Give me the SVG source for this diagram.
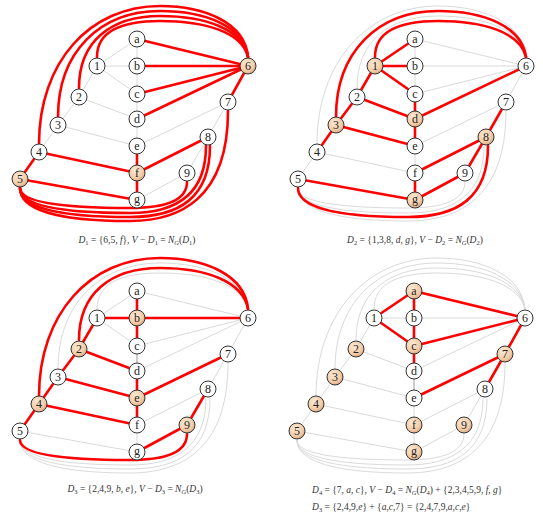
<svg xmlns="http://www.w3.org/2000/svg" width="543" height="515" viewBox="0 0 543 515">
<defs>
<radialGradient id="peach" cx="0.4" cy="0.35" r="0.7">
<stop offset="0" stop-color="#fcebd8"/>
<stop offset="0.7" stop-color="#f2c9a3"/>
<stop offset="1" stop-color="#d69e78"/>
</radialGradient>
<style>
.g{stroke:#dadada;stroke-width:1;fill:none}
.dk{stroke:#9a9a9a;stroke-width:1;fill:none}
.r{stroke:#ff0000;stroke-width:2.6;fill:none;stroke-linecap:round}
.node circle{fill:#fff;stroke:#333;stroke-width:1}
.node.dom circle{fill:url(#peach)}
.node text{font-family:"Liberation Serif","Times New Roman",serif;font-size:12px;text-anchor:middle;fill:#222}
.cap{font-family:"Liberation Serif","Times New Roman",serif;font-size:9.5px;fill:#333}
.i{font-style:italic}
.s{font-size:6.5px}
</style>
</defs>
<rect width="543" height="515" fill="#fff"/>

<!-- PANEL 1 -->
<g id="panel1">
<g id="p1-connectors">
<line class="g" x1="137" y1="39" x2="137" y2="66"/>
<line class="g" x1="137" y1="66" x2="137" y2="94"/>
<line class="g" x1="137" y1="94" x2="137" y2="119"/>
<line class="g" x1="137" y1="119" x2="137" y2="146"/>
<line class="g" x1="97" y1="66" x2="137" y2="39"/>
<line class="g" x1="97" y1="66" x2="137" y2="66"/>
<line class="g" x1="97" y1="66" x2="137" y2="94"/>
<line class="g" x1="97" y1="66" x2="79" y2="97"/>
<line class="g" x1="79" y1="97" x2="58" y2="125"/>
<line class="g" x1="58" y1="125" x2="39" y2="152"/>
<line class="g" x1="79" y1="97" x2="137" y2="119"/>
<line class="g" x1="58" y1="125" x2="137" y2="146"/>
<line class="g" x1="228" y1="102" x2="137" y2="146"/>
<line class="g" x1="228" y1="102" x2="208" y2="137"/>
<line class="g" x1="208" y1="137" x2="187" y2="173"/>
<line class="g" x1="187" y1="173" x2="137" y2="200"/>
<line class="r" x1="248" y1="66" x2="137" y2="39"/>
<line class="r" x1="248" y1="66" x2="137" y2="66"/>
<line class="r" x1="248" y1="66" x2="137" y2="94"/>
<line class="r" x1="248" y1="66" x2="137" y2="119"/>
<line class="r" x1="248" y1="66" x2="228" y2="102"/>
<line class="r" x1="20" y1="179" x2="39" y2="152"/>
<line class="r" x1="20" y1="179" x2="137" y2="200"/>
<line class="r" x1="137" y1="173" x2="39" y2="152"/>
<line class="r" x1="137" y1="173" x2="137" y2="146"/>
<line class="r" x1="137" y1="173" x2="137" y2="200"/>
<line class="r" x1="137" y1="173" x2="208" y2="137"/>
<path class="r" d="M97,57 C97,32 120,21 160,21 C205,21 242,32 248,57"/>
<path class="r" d="M79,88 C79,42 110,16 160,16 C205,16 243,29 248,57"/>
<path class="r" d="M58,117 C58,52 100,11 160,11 C205,11 244,26 248,57"/>
<path class="r" d="M39,144 C39,62 90,6 160,6 C205,6 245,23 248,57"/>
<path class="r" d="M20,188 C20,200 50,208 130,208 C165,208 187,200 187,182"/>
<path class="r" d="M20,188 C20,203 50,213 130,213 C175,213 206,195 206,146"/>
<path class="r" d="M20,188 C20,205 50,217 130,217 C180,217 210,197 210,146"/>
<path class="r" d="M20,188 C20,207 50,221 130,221 C178,221 228,200 228,111"/>
</g>
<g id="p1-a" class="node"><circle cx="137" cy="39" r="8"/><text x="137" y="43">a</text></g>
<g id="p1-b" class="node"><circle cx="137" cy="66" r="8"/><text x="137" y="70">b</text></g>
<g id="p1-c" class="node"><circle cx="137" cy="94" r="8"/><text x="137" y="98">c</text></g>
<g id="p1-d" class="node"><circle cx="137" cy="119" r="8"/><text x="137" y="123">d</text></g>
<g id="p1-e" class="node"><circle cx="137" cy="146" r="8"/><text x="137" y="150">e</text></g>
<g id="p1-f" class="node dom"><circle cx="137" cy="173" r="8"/><text x="137" y="177">f</text></g>
<g id="p1-g" class="node"><circle cx="137" cy="200" r="8"/><text x="137" y="203">g</text></g>
<g id="p1-1" class="node"><circle cx="97" cy="66" r="8"/><text x="97" y="70">1</text></g>
<g id="p1-2" class="node"><circle cx="79" cy="97" r="8"/><text x="79" y="101">2</text></g>
<g id="p1-3" class="node"><circle cx="58" cy="125" r="8"/><text x="58" y="129">3</text></g>
<g id="p1-4" class="node"><circle cx="39" cy="152" r="8"/><text x="39" y="156">4</text></g>
<g id="p1-5" class="node dom"><circle cx="20" cy="179" r="8"/><text x="20" y="183">5</text></g>
<g id="p1-6" class="node dom"><circle cx="248" cy="66" r="8"/><text x="248" y="70">6</text></g>
<g id="p1-7" class="node"><circle cx="228" cy="102" r="8"/><text x="228" y="106">7</text></g>
<g id="p1-8" class="node"><circle cx="208" cy="137" r="8"/><text x="208" y="141">8</text></g>
<g id="p1-9" class="node"><circle cx="187" cy="173" r="8"/><text x="187" y="177">9</text></g>
<text class="cap" x="137" y="243" text-anchor="middle"><tspan class="i">D</tspan><tspan class="s" dy="2">1</tspan><tspan dy="-2"> = {6,5, </tspan><tspan class="i">f</tspan><tspan>}, </tspan><tspan class="i">V</tspan><tspan> − </tspan><tspan class="i">D</tspan><tspan class="s" dy="2">1</tspan><tspan dy="-2"> = </tspan><tspan class="i">N</tspan><tspan class="s i" dy="2">G</tspan><tspan dy="-2">(</tspan><tspan class="i">D</tspan><tspan class="s" dy="2">1</tspan><tspan dy="-2">)</tspan></text>
</g>

<!-- PANEL 2 -->
<g id="panel2" transform="translate(278,0)">
<g id="p2-connectors">
<line class="g" x1="137" y1="39" x2="137" y2="66"/>
<line class="g" x1="137" y1="66" x2="137" y2="94"/>
<line class="g" x1="137" y1="146" x2="137" y2="173"/>
<line class="g" x1="248" y1="66" x2="137" y2="39"/>
<line class="g" x1="248" y1="66" x2="137" y2="66"/>
<line class="g" x1="248" y1="66" x2="137" y2="94"/>
<line class="g" x1="248" y1="66" x2="228" y2="102"/>
<line class="g" x1="228" y1="102" x2="137" y2="146"/>
<line class="g" x1="39" y1="152" x2="137" y2="173"/>
<line class="g" x1="39" y1="152" x2="20" y2="179"/>
<path class="g" d="M79,88 C79,42 110,16 160,16 C205,16 243,29 248,57"/>
<path class="g" d="M39,144 C39,62 90,6 160,6 C205,6 245,23 248,57"/>
<path class="g" d="M20,188 C20,200 50,208 130,208 C165,208 187,200 187,182"/>
<path class="g" d="M20,188 C20,203 50,213 130,213 C175,213 206,195 206,146"/>
<path class="g" d="M20,188 C20,207 50,221 130,221 C178,221 228,200 228,111"/>
<line class="r" x1="97" y1="66" x2="137" y2="39"/>
<line class="r" x1="97" y1="66" x2="137" y2="66"/>
<line class="r" x1="97" y1="66" x2="137" y2="94"/>
<line class="r" x1="97" y1="66" x2="79" y2="97"/>
<path class="r" d="M97,57 C97,32 120,21 160,21 C205,21 242,32 248,57"/>
<line class="r" x1="58" y1="125" x2="79" y2="97"/>
<line class="r" x1="58" y1="125" x2="39" y2="152"/>
<line class="r" x1="58" y1="125" x2="137" y2="146"/>
<path class="r" d="M58,117 C58,52 100,11 160,11 C205,11 244,26 248,57"/>
<line class="r" x1="137" y1="119" x2="137" y2="94"/>
<line class="r" x1="137" y1="119" x2="137" y2="146"/>
<line class="r" x1="137" y1="119" x2="79" y2="97"/>
<line class="r" x1="137" y1="119" x2="248" y2="66"/>
<line class="r" x1="208" y1="137" x2="228" y2="102"/>
<line class="r" x1="208" y1="137" x2="137" y2="173"/>
<line class="r" x1="208" y1="137" x2="187" y2="173"/>
<path class="r" d="M20,188 C20,205 50,217 130,217 C180,217 210,197 210,146"/>
<line class="r" x1="137" y1="200" x2="137" y2="173"/>
<line class="r" x1="137" y1="200" x2="20" y2="179"/>
<line class="r" x1="137" y1="200" x2="187" y2="173"/>
</g>
<g id="p2-a" class="node"><circle cx="137" cy="39" r="8"/><text x="137" y="43">a</text></g>
<g id="p2-b" class="node"><circle cx="137" cy="66" r="8"/><text x="137" y="70">b</text></g>
<g id="p2-c" class="node"><circle cx="137" cy="94" r="8"/><text x="137" y="98">c</text></g>
<g id="p2-d" class="node dom"><circle cx="137" cy="119" r="8"/><text x="137" y="123">d</text></g>
<g id="p2-e" class="node"><circle cx="137" cy="146" r="8"/><text x="137" y="150">e</text></g>
<g id="p2-f" class="node"><circle cx="137" cy="173" r="8"/><text x="137" y="177">f</text></g>
<g id="p2-g" class="node dom"><circle cx="137" cy="200" r="8"/><text x="137" y="203">g</text></g>
<g id="p2-1" class="node dom"><circle cx="97" cy="66" r="8"/><text x="97" y="70">1</text></g>
<g id="p2-2" class="node"><circle cx="79" cy="97" r="8"/><text x="79" y="101">2</text></g>
<g id="p2-3" class="node dom"><circle cx="58" cy="125" r="8"/><text x="58" y="129">3</text></g>
<g id="p2-4" class="node"><circle cx="39" cy="152" r="8"/><text x="39" y="156">4</text></g>
<g id="p2-5" class="node"><circle cx="20" cy="179" r="8"/><text x="20" y="183">5</text></g>
<g id="p2-6" class="node"><circle cx="248" cy="66" r="8"/><text x="248" y="70">6</text></g>
<g id="p2-7" class="node"><circle cx="228" cy="102" r="8"/><text x="228" y="106">7</text></g>
<g id="p2-8" class="node dom"><circle cx="208" cy="137" r="8"/><text x="208" y="141">8</text></g>
<g id="p2-9" class="node"><circle cx="187" cy="173" r="8"/><text x="187" y="177">9</text></g>
<text class="cap" x="137" y="243" text-anchor="middle"><tspan class="i">D</tspan><tspan class="s" dy="2">2</tspan><tspan dy="-2"> = {1,3,8, </tspan><tspan class="i">d</tspan><tspan>, </tspan><tspan class="i">g</tspan><tspan>}, </tspan><tspan class="i">V</tspan><tspan> − </tspan><tspan class="i">D</tspan><tspan class="s" dy="2">2</tspan><tspan dy="-2"> = </tspan><tspan class="i">N</tspan><tspan class="s i" dy="2">G</tspan><tspan dy="-2">(</tspan><tspan class="i">D</tspan><tspan class="s" dy="2">2</tspan><tspan dy="-2">)</tspan></text>
</g>

<!-- PANEL 3 -->
<g id="panel3" transform="translate(0,252)">
<g id="p3-connectors">
<line class="dk" x1="137" y1="94" x2="137" y2="119"/>
<line class="g" x1="137" y1="173" x2="137" y2="200"/>
<line class="g" x1="97" y1="66" x2="137" y2="39"/>
<line class="g" x1="97" y1="66" x2="137" y2="94"/>
<line class="g" x1="20" y1="179" x2="137" y2="200"/>
<line class="g" x1="248" y1="66" x2="137" y2="39"/>
<line class="g" x1="248" y1="66" x2="137" y2="94"/>
<line class="g" x1="248" y1="66" x2="137" y2="119"/>
<line class="g" x1="248" y1="66" x2="228" y2="102"/>
<line class="g" x1="228" y1="102" x2="208" y2="137"/>
<line class="g" x1="208" y1="137" x2="137" y2="173"/>
<path class="g" d="M97,57 C97,32 120,21 160,21 C205,21 242,32 248,57"/>
<path class="g" d="M58,117 C58,52 100,11 160,11 C205,11 244,26 248,57"/>
<path class="g" d="M20,188 C20,203 50,213 130,213 C175,213 206,195 206,146"/>
<path class="g" d="M20,188 C20,205 50,217 130,217 C180,217 210,197 210,146"/>
<path class="g" d="M20,188 C20,207 50,221 130,221 C178,221 228,200 228,111"/>
<line class="r" x1="137" y1="66" x2="137" y2="39"/>
<line class="r" x1="137" y1="66" x2="137" y2="94"/>
<line class="r" x1="137" y1="66" x2="97" y2="66"/>
<line class="r" x1="137" y1="66" x2="248" y2="66"/>
<line class="r" x1="79" y1="97" x2="97" y2="66"/>
<line class="r" x1="79" y1="97" x2="58" y2="125"/>
<line class="r" x1="79" y1="97" x2="137" y2="119"/>
<path class="r" d="M79,88 C79,42 110,16 160,16 C205,16 243,29 248,57"/>
<line class="r" x1="39" y1="152" x2="58" y2="125"/>
<line class="r" x1="39" y1="152" x2="20" y2="179"/>
<line class="r" x1="39" y1="152" x2="137" y2="173"/>
<path class="r" d="M39,144 C39,62 90,6 160,6 C205,6 245,23 248,57"/>
<line class="r" x1="137" y1="146" x2="137" y2="119"/>
<line class="r" x1="137" y1="146" x2="137" y2="173"/>
<line class="r" x1="137" y1="146" x2="58" y2="125"/>
<line class="r" x1="137" y1="146" x2="228" y2="102"/>
<line class="r" x1="187" y1="173" x2="208" y2="137"/>
<line class="r" x1="187" y1="173" x2="137" y2="200"/>
<path class="r" d="M20,188 C20,200 50,208 130,208 C165,208 187,200 187,182"/>
</g>
<g id="p3-a" class="node"><circle cx="137" cy="39" r="8"/><text x="137" y="43">a</text></g>
<g id="p3-b" class="node dom"><circle cx="137" cy="66" r="8"/><text x="137" y="70">b</text></g>
<g id="p3-c" class="node"><circle cx="137" cy="94" r="8"/><text x="137" y="98">c</text></g>
<g id="p3-d" class="node"><circle cx="137" cy="119" r="8"/><text x="137" y="123">d</text></g>
<g id="p3-e" class="node dom"><circle cx="137" cy="146" r="8"/><text x="137" y="150">e</text></g>
<g id="p3-f" class="node"><circle cx="137" cy="173" r="8"/><text x="137" y="177">f</text></g>
<g id="p3-g" class="node"><circle cx="137" cy="200" r="8"/><text x="137" y="203">g</text></g>
<g id="p3-1" class="node"><circle cx="97" cy="66" r="8"/><text x="97" y="70">1</text></g>
<g id="p3-2" class="node dom"><circle cx="79" cy="97" r="8"/><text x="79" y="101">2</text></g>
<g id="p3-3" class="node"><circle cx="58" cy="125" r="8"/><text x="58" y="129">3</text></g>
<g id="p3-4" class="node dom"><circle cx="39" cy="152" r="8"/><text x="39" y="156">4</text></g>
<g id="p3-5" class="node"><circle cx="20" cy="179" r="8"/><text x="20" y="183">5</text></g>
<g id="p3-6" class="node"><circle cx="248" cy="66" r="8"/><text x="248" y="70">6</text></g>
<g id="p3-7" class="node"><circle cx="228" cy="102" r="8"/><text x="228" y="106">7</text></g>
<g id="p3-8" class="node"><circle cx="208" cy="137" r="8"/><text x="208" y="141">8</text></g>
<g id="p3-9" class="node dom"><circle cx="187" cy="173" r="8"/><text x="187" y="177">9</text></g>
<text class="cap" x="135" y="240" text-anchor="middle"><tspan class="i">D</tspan><tspan class="s" dy="2">3</tspan><tspan dy="-2"> = {2,4,9, </tspan><tspan class="i">b</tspan><tspan>, </tspan><tspan class="i">e</tspan><tspan>}, </tspan><tspan class="i">V</tspan><tspan> − </tspan><tspan class="i">D</tspan><tspan class="s" dy="2">3</tspan><tspan dy="-2"> = </tspan><tspan class="i">N</tspan><tspan class="s i" dy="2">G</tspan><tspan dy="-2">(</tspan><tspan class="i">D</tspan><tspan class="s" dy="2">3</tspan><tspan dy="-2">)</tspan></text>
</g>

<!-- PANEL 4 -->
<g id="panel4" transform="translate(277,252)">
<g id="p4-connectors">
<line class="dk" x1="137" y1="119" x2="137" y2="146"/>
<line class="g" x1="137" y1="146" x2="137" y2="173"/>
<line class="g" x1="137" y1="173" x2="137" y2="200"/>
<line class="g" x1="97" y1="66" x2="137" y2="66"/>
<line class="g" x1="97" y1="66" x2="79" y2="97"/>
<line class="g" x1="79" y1="97" x2="58" y2="125"/>
<line class="g" x1="58" y1="125" x2="39" y2="152"/>
<line class="g" x1="39" y1="152" x2="20" y2="179"/>
<line class="g" x1="79" y1="97" x2="137" y2="119"/>
<line class="g" x1="58" y1="125" x2="137" y2="146"/>
<line class="g" x1="39" y1="152" x2="137" y2="173"/>
<line class="g" x1="20" y1="179" x2="137" y2="200"/>
<line class="g" x1="248" y1="66" x2="137" y2="66"/>
<line class="g" x1="248" y1="66" x2="137" y2="119"/>
<line class="g" x1="208" y1="137" x2="137" y2="173"/>
<line class="g" x1="208" y1="137" x2="187" y2="173"/>
<line class="g" x1="187" y1="173" x2="137" y2="200"/>
<path class="g" d="M97,57 C97,32 120,21 160,21 C205,21 242,32 248,57"/>
<path class="g" d="M79,88 C79,42 110,16 160,16 C205,16 243,29 248,57"/>
<path class="g" d="M58,117 C58,52 100,11 160,11 C205,11 244,26 248,57"/>
<path class="g" d="M39,144 C39,62 90,6 160,6 C205,6 245,23 248,57"/>
<path class="g" d="M20,188 C20,200 50,208 130,208 C165,208 187,200 187,182"/>
<path class="g" d="M20,188 C20,203 50,213 130,213 C175,213 206,195 206,146"/>
<path class="g" d="M20,188 C20,205 50,217 130,217 C180,217 210,197 210,146"/>
<path class="g" d="M20,188 C20,207 50,221 130,221 C178,221 228,200 228,111"/>
<line class="r" x1="137" y1="39" x2="97" y2="66"/>
<line class="r" x1="137" y1="39" x2="137" y2="66"/>
<line class="r" x1="137" y1="39" x2="248" y2="66"/>
<line class="r" x1="137" y1="94" x2="97" y2="66"/>
<line class="r" x1="137" y1="94" x2="137" y2="66"/>
<line class="r" x1="137" y1="94" x2="137" y2="119"/>
<line class="r" x1="137" y1="94" x2="248" y2="66"/>
<line class="r" x1="228" y1="102" x2="248" y2="66"/>
<line class="r" x1="228" y1="102" x2="137" y2="146"/>
<line class="r" x1="228" y1="102" x2="208" y2="137"/>
</g>
<g id="p4-a" class="node dom"><circle cx="137" cy="39" r="8"/><text x="137" y="43">a</text></g>
<g id="p4-b" class="node"><circle cx="137" cy="66" r="8"/><text x="137" y="70">b</text></g>
<g id="p4-c" class="node dom"><circle cx="137" cy="94" r="8"/><text x="137" y="98">c</text></g>
<g id="p4-d" class="node"><circle cx="137" cy="119" r="8"/><text x="137" y="123">d</text></g>
<g id="p4-e" class="node"><circle cx="137" cy="146" r="8"/><text x="137" y="150">e</text></g>
<g id="p4-f" class="node dom"><circle cx="137" cy="173" r="8"/><text x="137" y="177">f</text></g>
<g id="p4-g" class="node dom"><circle cx="137" cy="200" r="8"/><text x="137" y="203">g</text></g>
<g id="p4-1" class="node"><circle cx="97" cy="66" r="8"/><text x="97" y="70">1</text></g>
<g id="p4-2" class="node dom"><circle cx="79" cy="97" r="8"/><text x="79" y="101">2</text></g>
<g id="p4-3" class="node dom"><circle cx="58" cy="125" r="8"/><text x="58" y="129">3</text></g>
<g id="p4-4" class="node dom"><circle cx="39" cy="152" r="8"/><text x="39" y="156">4</text></g>
<g id="p4-5" class="node dom"><circle cx="20" cy="179" r="8"/><text x="20" y="183">5</text></g>
<g id="p4-6" class="node"><circle cx="248" cy="66" r="8"/><text x="248" y="70">6</text></g>
<g id="p4-7" class="node dom"><circle cx="228" cy="102" r="8"/><text x="228" y="106">7</text></g>
<g id="p4-8" class="node"><circle cx="208" cy="137" r="8"/><text x="208" y="141">8</text></g>
<g id="p4-9" class="node dom"><circle cx="187" cy="173" r="8"/><text x="187" y="177">9</text></g>
<text class="cap" x="35" y="241"><tspan class="i">D</tspan><tspan class="s" dy="2">4</tspan><tspan dy="-2"> = {7, </tspan><tspan class="i">a</tspan><tspan>, </tspan><tspan class="i">c</tspan><tspan>}, </tspan><tspan class="i">V</tspan><tspan> − </tspan><tspan class="i">D</tspan><tspan class="s" dy="2">4</tspan><tspan dy="-2"> = </tspan><tspan class="i">N</tspan><tspan class="s i" dy="2">G</tspan><tspan dy="-2">(</tspan><tspan class="i">D</tspan><tspan class="s" dy="2">4</tspan><tspan dy="-2">) + {2,3,4,5,9, </tspan><tspan class="i">f</tspan><tspan>, </tspan><tspan class="i">g</tspan><tspan>}</tspan></text>
<text class="cap" x="35" y="258"><tspan class="i">D</tspan><tspan class="s" dy="2">3</tspan><tspan dy="-2"> = {2,4,9,</tspan><tspan class="i">e</tspan><tspan>} + {</tspan><tspan class="i">a</tspan><tspan>,</tspan><tspan class="i">c</tspan><tspan>,7} = {2,4,7,9,</tspan><tspan class="i">a</tspan><tspan>,</tspan><tspan class="i">c</tspan><tspan>,</tspan><tspan class="i">e</tspan><tspan>}</tspan></text>
</g>
</svg>
